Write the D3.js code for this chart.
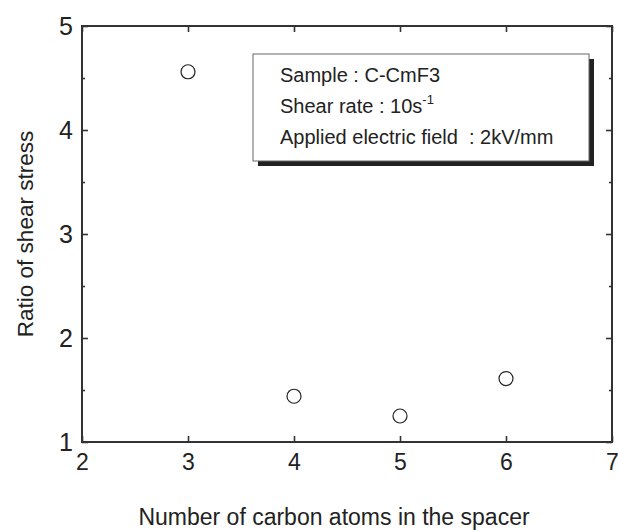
<!DOCTYPE html>
<html>
<head>
<meta charset="utf-8">
<script src="https://cdn.jsdelivr.net/npm/d3@7"></script>
<style>
  body { margin: 0; background: #fff; }
  svg { font-family: "Liberation Sans", Arial, sans-serif; }
</style>
</head>
<body>
<svg id="chart"></svg>
<script>
// data
const carbonAtoms = [3, 4, 5, 6];
const shearRatio = [4.56, 1.44, 1.25, 1.61];
const xTicks = [2, 3, 4, 5, 6, 7];
const yTicks = [1, 2, 3, 4, 5];
const yMinorTicks = [1.5, 2.5, 3.5, 4.5];
const legendLines = ["Sample : C-CmF3", "Shear rate : 10s", "Applied electric field  : 2kV/mm"];

const width = 618, height = 530;
const margin = {top: 26, right: 6, bottom: 88, left: 82};
const innerW = width - margin.left - margin.right;
const innerH = height - margin.top - margin.bottom;

const svg = d3.select("#chart").attr("width", width).attr("height", height);
const chart = svg.append("g").attr("transform", `translate(${margin.left},${margin.top})`);

const x = d3.scaleLinear().domain([2, 7]).range([0, innerW]);
const y = d3.scaleLinear().domain([1, 5]).range([innerH, 0]);

const axisColor = "#333";

// frame
chart.append("rect")
    .attr("width", innerW).attr("height", innerH)
    .attr("fill", "none").attr("stroke", axisColor).attr("stroke-width", 2);

// inward ticks on all sides
const tickLen = 6, minorLen = 3;
const xAxisB = d3.axisBottom(x).tickValues(xTicks).tickSize(-tickLen).tickPadding(12).tickFormat(d3.format("d"));
const xAxisT = d3.axisTop(x).tickValues(xTicks).tickSize(-tickLen).tickFormat("");
const yAxisL = d3.axisLeft(y).tickValues(yTicks).tickSize(-tickLen).tickPadding(9).tickFormat(d3.format("d"));
const yAxisR = d3.axisRight(y).tickValues(yTicks).tickSize(-tickLen).tickFormat("");
const yMinorL = d3.axisLeft(y).tickValues(yMinorTicks).tickSize(-minorLen).tickFormat("");
const yMinorR = d3.axisRight(y).tickValues(yMinorTicks).tickSize(-minorLen).tickFormat("");

function styleAxis(g, fs) {
    g.select(".domain").remove();
    g.selectAll(".tick line").attr("stroke", axisColor).attr("stroke-width", 1.6);
    g.selectAll(".tick text").attr("fill", "#222").attr("font-size", fs || 24)
        .attr("font-family", "Liberation Sans, Arial, sans-serif");
}

chart.append("g").attr("transform", `translate(0,${innerH})`).call(xAxisB).call(styleAxis, 23);
chart.append("g").call(xAxisT).call(styleAxis);
chart.append("g").call(yAxisL).call(styleAxis, 25);
chart.append("g").attr("transform", `translate(${innerW},0)`).call(yAxisR).call(styleAxis);
chart.append("g").call(yMinorL).call(styleAxis);
chart.append("g").attr("transform", `translate(${innerW},0)`).call(yMinorR).call(styleAxis);

// points
chart.selectAll("circle.pt")
    .data(carbonAtoms.map((c, i) => ({c, v: shearRatio[i]})))
    .join("circle")
    .attr("class", "pt")
    .attr("cx", d => x(d.c))
    .attr("cy", d => y(d.v))
    .attr("r", 7)
    .attr("fill", "none")
    .attr("stroke", "#222")
    .attr("stroke-width", 1.2);

// axis titles
svg.append("text")
    .attr("x", 334)
    .attr("y", 525)
    .attr("text-anchor", "middle")
    .attr("font-size", 23)
    .attr("fill", "#222")
    .text("Number of carbon atoms in the spacer");

svg.append("text")
    .attr("transform", `translate(33,234) rotate(-90)`)
    .attr("text-anchor", "middle")
    .attr("font-size", 22.5)
    .attr("fill", "#222")
    .text("Ratio of shear stress");

// legend box with drop shadow
const lg = {x: 253, y: 54, w: 336, h: 107};
svg.append("rect")
    .attr("x", lg.x + 5).attr("y", lg.y + 5)
    .attr("width", lg.w).attr("height", lg.h)
    .attr("fill", "#222");
svg.append("rect")
    .attr("x", lg.x).attr("y", lg.y)
    .attr("width", lg.w).attr("height", lg.h)
    .attr("fill", "#fff").attr("stroke", "#666").attr("stroke-width", 1);

const lt = svg.append("g").attr("font-size", 20).attr("fill", "#222");
legendLines.forEach((s, i) => {
    const t = lt.append("text")
        .attr("x", lg.x + 27)
        .attr("y", lg.y + 28 + i * 31)
        .attr("xml:space", "preserve")
        .text(s);
    if (i === 1) {
        t.append("tspan").attr("dy", -9).attr("font-size", 13).text("-1");
    }
});
</script>
</body>
</html>
